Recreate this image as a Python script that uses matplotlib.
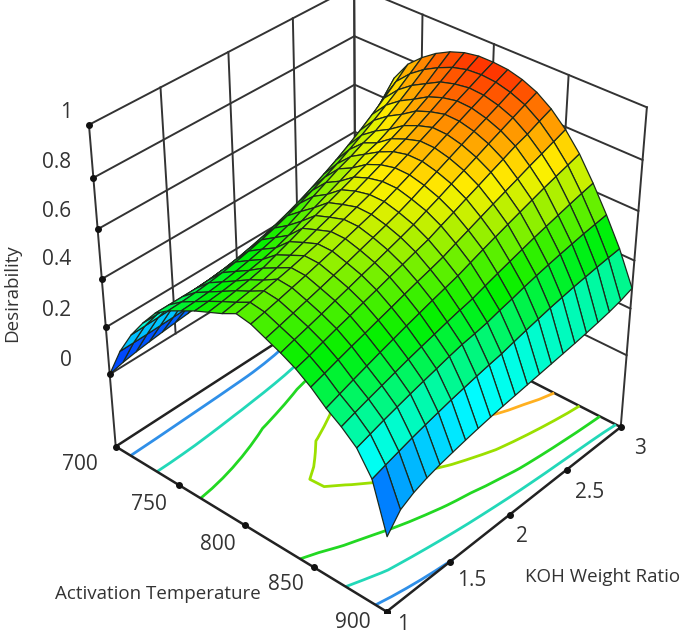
import numpy as np
import matplotlib
matplotlib.use('Agg')
import matplotlib.pyplot as plt
from matplotlib.colors import LinearSegmentedColormap

# Desirability surface, one list per temperature,
# each running along the KOH ratio from 1 to 3
temperature = [700, 710, 720, 730, 740, 750, 760, 770, 780, 790, 800,
               810, 820, 830, 840, 850, 860, 870, 880, 890, 900]
koh_ratio = [1.0, 1.1, 1.2, 1.3, 1.4, 1.5, 1.6, 1.7, 1.8, 1.9, 2.0,
             2.1, 2.2, 2.3, 2.4, 2.5, 2.6, 2.7, 2.8, 2.9, 3.0]
d700 = [0, .015, .025, .033, .04, .046, .052, .058, .064, .07, .077, .085, .095, .107, .122, .14, .161, .186, .215, .25, .29]
d710 = [.13, .131, .132, .134, .136, .138, .14, .142, .145, .148, .152, .158, .166, .177, .191, .209, .231, .258, .291, .33, .375]
d720 = [.23, .232, .234, .236, .239, .242, .245, .249, .254, .26, .268, .278, .291, .307, .327, .351, .38, .414, .453, .497, .55]
d730 = [.31, .31, .312, .315, .319, .323, .328, .334, .342, .35, .36, .372, .388, .408, .433, .463, .498, .538, .585, .64, .70]
d740 = [.38, .38, .38, .38, .383, .39, .399, .411, .425, .441, .46, .481, .505, .531, .559, .59, .623, .659, .697, .737, .78]
d750 = [.42, .422, .426, .432, .44, .45, .462, .476, .492, .51, .53, .552, .575, .60, .628, .657, .688, .721, .755, .792, .83]
d760 = [.45, .453, .458, .465, .474, .485, .498, .513, .53, .555, .585, .61, .635, .655, .68, .699, .73, .763, .797, .833, .87]
d770 = [.48, .484, .49, .498, .507, .518, .532, .55, .575, .598, .62, .642, .665, .69, .706, .731, .762, .794, .828, .864, .90]
d780 = [.505, .513, .522, .532, .545, .565, .585, .606, .625, .645, .665, .685, .705, .725, .748, .771, .80, .828, .859, .889, .92]
d790 = [.53, .54, .55, .56, .575, .592, .61, .628, .646, .665, .687, .708, .73, .752, .772, .796, .822, .849, .875, .904, .93]
d800 = [.56, .57, .581, .593, .605, .619, .633, .649, .665, .682, .70, .721, .744, .766, .79, .814, .837, .861, .884, .908, .93]
d810 = [.55, .562, .575, .589, .603, .618, .633, .649, .665, .681, .70, .721, .743, .766, .789, .812, .835, .858, .88, .903, .925]
d820 = [.525, .539, .554, .569, .584, .60, .616, .633, .65, .667, .685, .706, .729, .752, .775, .798, .821, .843, .865, .888, .91]
d830 = [.50, .516, .531, .547, .564, .58, .597, .613, .63, .647, .665, .687, .708, .731, .753, .775, .798, .82, .842, .864, .885]
d840 = [.47, .485, .503, .52, .536, .553, .569, .586, .602, .619, .635, .657, .678, .70, .721, .743, .764, .786, .803, .825, .845]
d850 = [.43, .447, .465, .482, .498, .515, .531, .548, .564, .579, .595, .616, .636, .656, .676, .695, .714, .734, .752, .771, .79]
d860 = [.38, .399, .418, .436, .454, .471, .488, .504, .52, .535, .55, .569, .588, .606, .624, .641, .658, .675, .69, .705, .72]
d870 = [.34, .358, .375, .391, .407, .423, .437, .451, .465, .478, .49, .507, .523, .538, .553, .568, .581, .594, .607, .619, .63]
d880 = [.29, .307, .324, .339, .354, .368, .381, .395, .407, .415, .425, .439, .451, .465, .477, .488, .498, .507, .516, .523, .53]
d890 = [.20, .217, .233, .249, .263, .276, .289, .30, .311, .321, .33, .343, .355, .366, .377, .386, .395, .402, .409, .415, .42]
d900 = [0, .07, .10, .12, .135, .147, .158, .168, .177, .185, .192, .199, .206, .213, .22, .227, .235, .244, .254, .267, .285]
contour_levels = [.15, .33, .47, .62, .77]
contour_colors = ['#2f8fe8', '#22d8b8', '#22d822', '#9be000', '#ffb020']
t_ticks = [700, 750, 800, 850, 900]
k_ticks = [1, 1.5, 2, 2.5, 3]
z_ticks = [0, .2, .4, .6, .8, 1]
z_floor = -0.32

W, H = 685, 635
AX_SIZE = 640

def px(x, y, s, **kw):
    # text placed by pixel position in the picture
    kw.setdefault('ha', 'center')
    kw.setdefault('va', 'center')
    kw.setdefault('color', '#333333')
    kw.setdefault('fontsize', 15)
    fig.text(x / W, 1 - y / H, s, family='Open Sans', **kw)

T, K = np.meshgrid(temperature, koh_ratio)
Z = np.array([d700, d710, d720, d730, d740, d750, d760, d770, d780, d790, d800,
              d810, d820, d830, d840, d850, d860, d870, d880, d890, d900]).T

rainbow = LinearSegmentedColormap.from_list(
    'de', ['#0000ff', '#00ffff', '#00f000', '#fff000', '#ff1000'])

fig = plt.figure(figsize=(W / 100, H / 100), dpi=100)
ax = fig.add_axes([(369 - 8 - AX_SIZE / 2) / W, 1 - (293 + AX_SIZE / 2) / H, AX_SIZE / W, AX_SIZE / H],
                  projection='3d', computed_zorder=False)
ax.set_proj_type('persp', focal_length=0.65)
ax.view_init(elev=35, azim=-48.5)
ax.set_box_aspect((1, 1, 1.04))
ax.set_xlim(700, 900)
ax.set_ylim(1, 3)
ax.set_zlim(z_floor, 1)
ax.set_axis_off()

grid = dict(color='#333333', lw=1.4, zorder=1)
# walls: the inner verticals stop at z = 0, the corners go down to the floor
for t in t_ticks:
    ax.plot([t, t], [3, 3], [z_floor if t in (700, 900) else 0, 1], **grid)
for k in k_ticks:
    ax.plot([700, 700], [k, k], [z_floor if k in (1, 3) else 0, 1], **grid)
for z in z_ticks:
    ax.plot([700, 700], [1, 3], [z, z], **grid)
    ax.plot([700, 900], [3, 3], [z, z], **grid)
# floor edges
edge = dict(color='#222222', lw=1.8, zorder=1)
ax.plot([700, 700], [1, 3], [z_floor, z_floor], **edge)
ax.plot([700, 900], [3, 3], [z_floor, z_floor], **edge)

ax.contour(T, K, Z, levels=contour_levels, colors=contour_colors, linewidths=2,
           offset=z_floor, zdir='z', zorder=2)

ax.plot([700, 900], [1, 1], [z_floor, z_floor], color='#222222', lw=1.8, zorder=3)
ax.plot([900, 900], [1, 3], [z_floor, z_floor], color='#222222', lw=1.8, zorder=3)

ax.plot_surface(T, K, Z, rstride=1, cstride=1, cmap=rainbow, vmin=0, vmax=0.96,
                edgecolor='#1c2a1c', linewidth=0.9, shade=False, zorder=4)

# tick dots
dots = dict(ls='none', marker='o', ms=4, color='#111111', zorder=5)
ax.plot(t_ticks, [1] * 5, [z_floor] * 5, **dots)
ax.plot([900] * 5, k_ticks, [z_floor] * 5, **dots)
ax.plot([700] * 6, [1] * 6, z_ticks, **dots)

# tick labels and axis titles
t_pos = [(80, 465), (149, 505), (218, 545), (286, 585), (353, 623)]
k_pos = [(403, 624), (472, 580), (522, 537), (590, 492), (640, 448)]
z_pos = [(66, 360), (57, 310), (57, 260), (57, 212), (57, 162), (66, 112)]
for v, (x, y) in zip(t_ticks, t_pos):
    px(x, y, str(v))
for v, (x, y) in zip(k_ticks, k_pos):
    px(x, y, str(v))
for v, (x, y) in zip(z_ticks, z_pos):
    px(x, y, str(v))
px(158, 594, 'Activation Temperature', fontsize=13.5)
px(603, 577, 'KOH Weight Ratio', fontsize=13.5)
px(12, 293, 'Desirability', fontsize=13.5, rotation=90)

fig.savefig('out.png', dpi=100)
